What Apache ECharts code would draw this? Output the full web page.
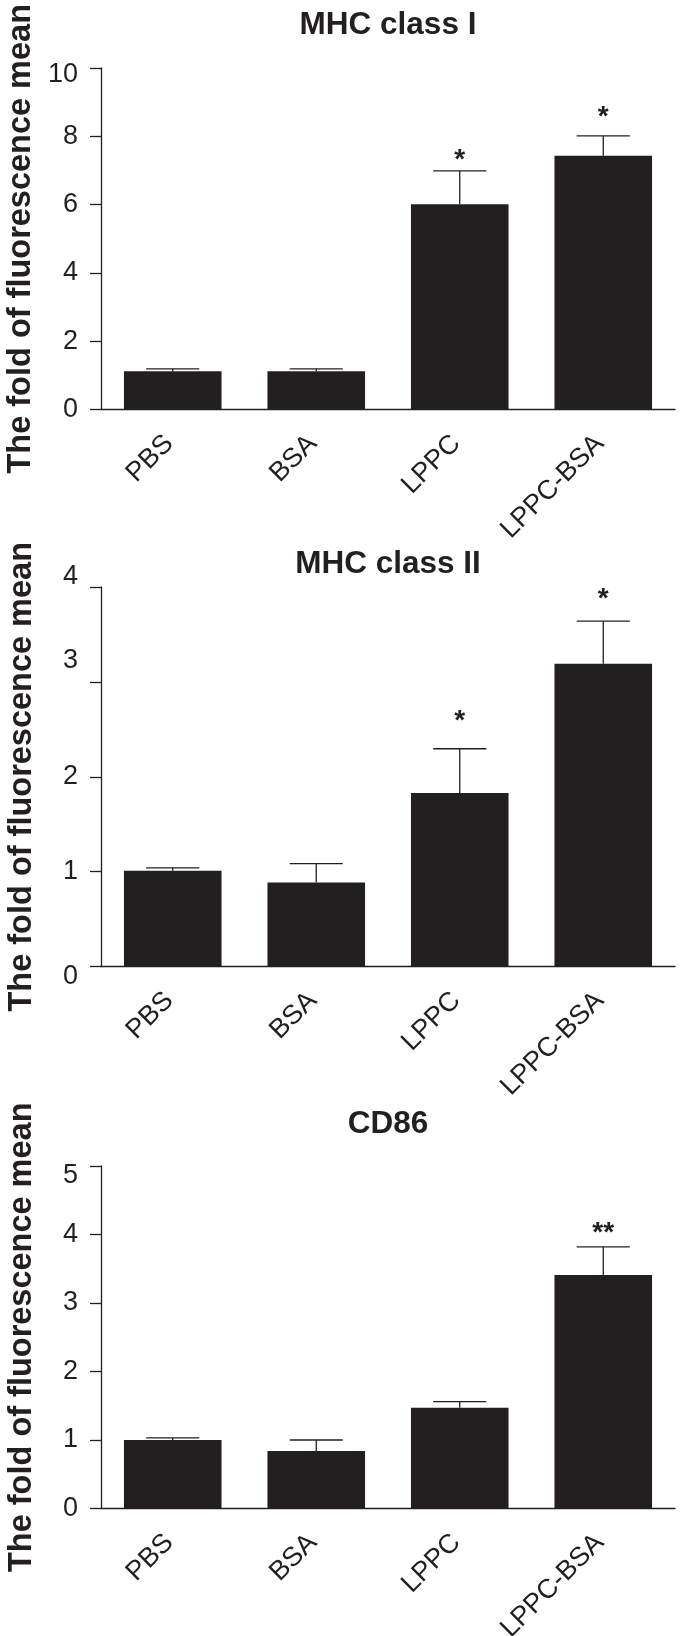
<!DOCTYPE html>
<html>
<head>
<meta charset="utf-8">
<script src="https://cdn.jsdelivr.net/npm/echarts@6/dist/echarts.min.js"></script>
<style>
html,body{margin:0;padding:0;background:#fff;}
#c{width:685px;height:1636px;}
</style>
</head>
<body>
<div id="c"></div>
<script>
// ---- data ----
const categories = ['PBS', 'BSA', 'LPPC', 'LPPC-BSA'];
const titles = ['MHC class I', 'MHC class II', 'CD86'];
const yAxisTitle = 'The fold of fluorescence mean';

const mhc1Mean = [1.12, 1.12, 6.01, 7.43];
const mhc1Err  = [0.07, 0.07, 0.98, 0.58];
const mhc1Sig  = ['', '', '*', '*'];
const mhc1SigY = [null, null, 7.47, 8.74];

const mhc2Mean = [1.01, 0.885, 1.83, 3.19];
const mhc2Err  = [0.03, 0.20, 0.465, 0.45];
const mhc2Sig  = ['', '', '*', '*'];
const mhc2SigY = [null, null, 2.65, 3.93];

const cd86Mean = [1.00, 0.84, 1.47, 3.41];
const cd86Err  = [0.03, 0.16, 0.09, 0.41];
const cd86Sig  = ['', '', '', '**'];
const cd86SigY = [null, null, null, 4.11];

const yMax = [10, 4, 5];
const yInterval = [2, 1, 1];

// ---- styling / layout ----
const INK = '#231f20';
const NARROW = "'Liberation Sans Narrow', 'Arial Narrow', 'Liberation Sans', Arial, sans-serif";
const SANS = "'Liberation Sans', Arial, sans-serif";
const grids = [
  {left: 101, right: 10, top: 68, height: 341.5, outerBoundsMode: 'none', containLabel: false},
  {left: 101, right: 10, top: 587, height: 379.5, outerBoundsMode: 'none', containLabel: false},
  {left: 101, right: 10, top: 1166, height: 342.5, outerBoundsMode: 'none', containLabel: false}
];
const titleTops = [9, 548, 1108];
// per-panel vertical nudges of a few tick labels (as in the original figure)
const labelShift = [{10: 7}, {4: -10, 3: -21, 0: 10}, {5: 10}];
const CAT_LABEL_DX = -13;
const CAT_LABEL_DY = 20.5;

const means = [mhc1Mean, mhc2Mean, cd86Mean];
const errs = [mhc1Err, mhc2Err, cd86Err];
const sigs = [mhc1Sig, mhc2Sig, cd86Sig];
const sigYs = [mhc1SigY, mhc2SigY, cd86SigY];
const sigText = {};

function errRender(params, api) {
  const x = api.value(0), m = api.value(1), e = api.value(2);
  const p0 = api.coord([x, m]);
  const p1 = api.coord([x, m + e]);
  const half = api.size([1, 0])[0] * 0.185;
  const st = {stroke: INK, lineWidth: 1.3};
  return {type: 'group', children: [
    {type: 'line', shape: {x1: p0[0], y1: p0[1], x2: p1[0], y2: p1[1]}, style: st},
    {type: 'line', shape: {x1: p1[0] - half, y1: p1[1], x2: p1[0] + half, y2: p1[1]}, style: st}
  ]};
}
function sigRender(params, api) {
  const p = api.coord([api.value(0), api.value(1)]);
  return {type: 'text', x: p[0], y: p[1] + 6,
    style: {text: sigText[params.seriesIndex][params.dataIndex], fill: INK, fontSize: 28, fontWeight: 'bold',
      fontFamily: SANS, align: 'center', verticalAlign: 'middle'}};
}
// rotated category labels, anchored at each category's tick on the x axis
function catLabelRender(params, api) {
  const k = api.value(0);
  const p = api.coord([k, 0]);
  return {type: 'text', x: p[0] + CAT_LABEL_DX, y: p[1] + CAT_LABEL_DY, rotation: Math.PI / 4,
    style: {text: categories[k], fill: INK, fontSize: 27, fontFamily: NARROW,
      align: 'right', verticalAlign: 'top'}};
}

const option = {
  animation: false,
  backgroundColor: '#fff',
  title: titles.map((t, i) => ({
    text: t, left: 388, top: titleTops[i], textAlign: 'center', padding: 0,
    textStyle: {fontSize: 31.5, fontWeight: 'bold', color: INK, fontFamily: SANS}
  })),
  grid: grids,
  xAxis: grids.map((g, i) => ({
    type: 'category', gridIndex: i, data: categories,
    axisLine: {lineStyle: {color: INK, width: 1.3}},
    axisTick: {alignWithLabel: true, length: 12, lineStyle: {color: INK, width: 1.3}},
    axisLabel: {show: false}
  })),
  yAxis: grids.map((g, i) => {
    const rich = {};
    Object.keys(labelShift[i]).forEach(k => {
      const d = labelShift[i][k];
      rich['s' + k] = {fontSize: 27, color: INK, fontFamily: NARROW,
        padding: d > 0 ? [2 * d, 0, 0, 0] : [0, 0, -2 * d, 0]};
    });
    return {
      type: 'value', gridIndex: i, min: 0, max: yMax[i], interval: yInterval[i],
      name: yAxisTitle, nameLocation: 'middle', nameGap: 62, nameRotate: 90,
      nameTextStyle: {fontSize: 32.5, fontWeight: 'bold', color: INK, fontFamily: SANS},
      axisLine: {show: true, lineStyle: {color: INK, width: 1.3}},
      axisTick: {show: true, length: 11, lineStyle: {color: INK, width: 1.3}},
      splitLine: {show: false},
      axisLabel: {margin: 23, fontSize: 27, color: INK, fontFamily: NARROW,
        formatter: v => (labelShift[i][v] !== undefined ? '{s' + v + '|' + v + '}' : String(v)),
        rich: rich}
    };
  }),
  series: []
};

grids.forEach((g, i) => {
  option.series.push({
    type: 'bar', xAxisIndex: i, yAxisIndex: i, data: means[i],
    barCategoryGap: '32%', itemStyle: {color: INK}, z: 2
  });
});
grids.forEach((g, i) => {
  option.series.push({
    type: 'custom', xAxisIndex: i, yAxisIndex: i, z: 3,
    renderItem: errRender,
    data: categories.map((c, k) => [k, means[i][k], errs[i][k]])
  });
});
grids.forEach((g, i) => {
  const idx = option.series.length;
  const pts = [], txts = [];
  categories.forEach((c, k) => {
    if (sigs[i][k]) { pts.push([k, sigYs[i][k]]); txts.push(sigs[i][k]); }
  });
  sigText[idx] = txts;
  option.series.push({
    type: 'custom', xAxisIndex: i, yAxisIndex: i, z: 4,
    renderItem: sigRender, data: pts
  });
});
grids.forEach((g, i) => {
  option.series.push({
    type: 'custom', xAxisIndex: i, yAxisIndex: i, z: 5, clip: false,
    renderItem: catLabelRender, data: categories.map((c, k) => [k, 0])
  });
});

const chart = echarts.init(document.getElementById('c'), null, {renderer: 'canvas'});
chart.setOption(option);
</script>
</body>
</html>
